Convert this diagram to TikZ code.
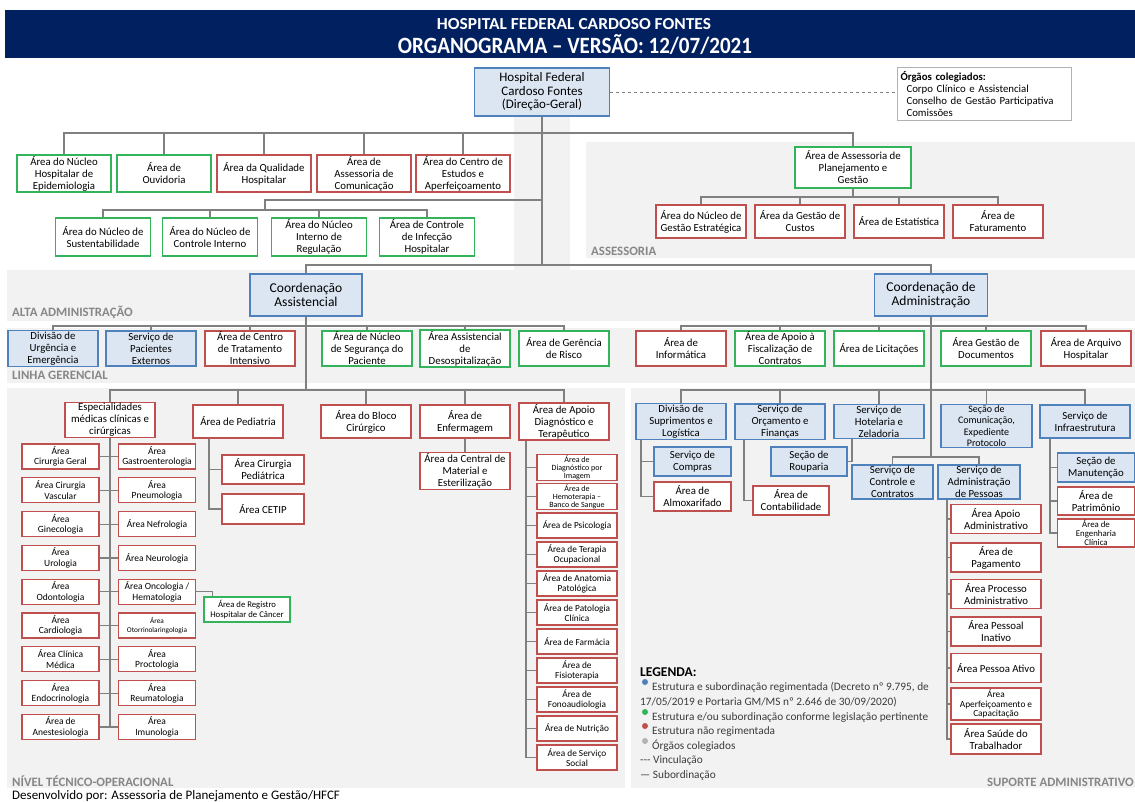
\documentclass[tikz,border=0pt]{standalone}
\usepackage{fontspec}
\setmainfont{Carlito}
\usepackage{graphicx}
\definecolor{navy}{RGB}{0,32,96}
\definecolor{boxblue}{RGB}{79,129,189}
\definecolor{fillblue}{RGB}{220,230,242}
\definecolor{boxgreen}{RGB}{51,179,90}
\definecolor{boxred}{RGB}{192,80,77}
\definecolor{panelgray}{RGB}{242,242,242}
\definecolor{linkgray}{RGB}{128,128,128}
\definecolor{zonegray}{RGB}{135,135,135}
\definecolor{legendgray}{RGB}{60,60,60}
\tikzset{
  box/.style={draw, align=center, inner sep=1pt, line width=1.3pt, font=\fontsize{10.8}{12}\selectfont},
  bluebox/.style={box, draw=boxblue, fill=fillblue},
  greenbox/.style={box, draw=boxgreen, fill=white},
  redbox/.style={box, draw=boxred, fill=white},
  wh/.style 2 args={minimum width=#1, minimum height=#2},
  small/.style={font=\fontsize{9.5}{10.5}\selectfont},
  mini/.style={font=\fontsize{9.3}{10}\selectfont},
  micro/.style={font=\fontsize{8}{8}\selectfont},
  link/.style={draw=linkgray, line width=1.2pt},
  zone/.style={anchor=base west, inner sep=0pt, text=zonegray, font=\bfseries\fontsize{12.8}{14}\selectfont},
  legend/.style={anchor=base west, inner sep=0pt, text=legendgray, font=\fontsize{11.3}{13}\selectfont}
}
\begin{document}
\begin{tikzpicture}[x=1pt,y=-1pt]
\useasboundingbox (0,0) rectangle (1135,801);
\fill[white] (0,0) rectangle (1135,801);
\fill[navy] (5,10) rectangle (1135,58);
\fill[panelgray] (514,117) rectangle (570,270);
\fill[panelgray] (586,142) rectangle (1135,258);
\fill[panelgray] (7,270) rectangle (1135,321);
\fill[panelgray] (7,328) rectangle (1135,383);
\fill[panelgray] (7,388) rectangle (625,788);
\fill[panelgray] (631,388) rectangle (1135,788);

\node[anchor=base, text=white, inner sep=0pt] (title1) at (574,29) {\resizebox{274pt}{11pt}{\bfseries HOSPITAL FEDERAL CARDOSO FONTES}};
\node[anchor=base, text=white, inner sep=0pt] (title2) at (575,53) {\resizebox{354pt}{19pt}{\bfseries ORGANOGRAMA -- VERSÃO: 12/07/2021}};

\node[bluebox, wh={135}{48}, font=\fontsize{13}{13.5}\selectfont] (dg) at (542,92) {Hospital Federal\\Cardoso Fontes\\(Direção-Geral)};
\node[draw=gray!60, line width=1pt, anchor=north west, text width=168pt, minimum height=53pt, inner sep=3pt, align=left, font=\fontsize{10.8}{12}\selectfont] (coleg) at (897,67)
  {\textbf{Órgãos colegiados:}\\\hspace*{6pt}Corpo Clínico e Assistencial\\\hspace*{6pt}Conselho de Gestão Participativa\\\hspace*{6pt}Comissões};

\node[greenbox, wh={94}{37}] (epid) at (64,173.5) {Área do Núcleo\\Hospitalar de\\Epidemiologia};
\node[greenbox, wh={94}{37}] (ouvid) at (164,173.5) {Área de\\Ouvidoria};
\node[redbox, wh={94}{37}] (qual) at (264,173.5) {Área da Qualidade\\Hospitalar};
\node[redbox, wh={94}{37}] (comun) at (364,173.5) {Área de\\Assessoria de\\Comunicação};
\node[redbox, wh={94}{37}] (estudos) at (463,173.5) {Área do Centro de\\Estudos e\\Aperfeiçoamento};

\node[greenbox, wh={95}{38}] (sust) at (103,237) {Área do Núcleo de\\Sustentabilidade};
\node[greenbox, wh={95}{38}] (ctrl) at (210,237) {Área do Núcleo de\\Controle Interno};
\node[greenbox, wh={95}{38}] (regul) at (319,237) {Área do Núcleo\\Interno de\\Regulação};
\node[greenbox, wh={95}{38}] (infec) at (427,237) {Área de Controle\\de Infecção\\Hospitalar};

\node[greenbox, wh={116}{41}] (plan) at (853,167.5) {Área de Assessoria de\\Planejamento e\\Gestão};
\node[redbox, wh={90}{33}] (nge) at (701,221.5) {Área do Núcleo de\\Gestão Estratégica};
\node[redbox, wh={90}{33}] (custos) at (800,221.5) {Área da Gestão de\\Custos};
\node[redbox, wh={90}{33}] (estat) at (899,221.5) {Área de Estatística};
\node[redbox, wh={90}{33}] (fatur) at (998,221.5) {Área de\\Faturamento};

\node[bluebox, wh={112}{42}, font=\fontsize{13.5}{14.5}\selectfont] (ca) at (306,295) {Coordenação\\Assistencial};
\node[bluebox, wh={113}{42}, font=\fontsize{13.5}{14.5}\selectfont] (cadm) at (931,295) {Coordenação de\\Administração};

\node[bluebox, wh={90}{35}] (urg) at (53,348.5) {Divisão de\\Urgência e\\Emergência};
\node[bluebox, wh={90}{35}] (pext) at (151,348.5) {Serviço de\\Pacientes\\Externos};
\node[redbox, wh={90}{35}] (cti) at (250,348.5) {Área de Centro\\de Tratamento\\Intensivo};
\node[greenbox, wh={90}{35}] (nsp) at (367,348.5) {Área de Núcleo\\de Segurança do\\Paciente};
\node[greenbox, wh={90}{35}] (desosp) at (465,348.5) {Área Assistencial\\de\\Desospitalização};
\node[greenbox, wh={90}{35}] (risco) at (564,348.5) {Área de Gerência\\de Risco};
\node[redbox, wh={90}{35}] (inform) at (681,348.5) {Área de\\Informática};
\node[greenbox, wh={90}{35}] (fisc) at (780,348.5) {Área de Apoio à\\Fiscalização de\\Contratos};
\node[greenbox, wh={90}{35}] (licit) at (879,348.5) {Área de Licitações};
\node[greenbox, wh={90}{35}] (gdoc) at (986,348.5) {Área Gestão de\\Documentos};
\node[redbox, wh={90}{35}] (arq) at (1086,348.5) {Área de Arquivo\\Hospitalar};

\node[redbox, wh={90}{34}] (espec) at (110,420) {Especialidades\\médicas clínicas e\\cirúrgicas};
\node[redbox, wh={90}{33}] (pedia) at (238,421.5) {Área de Pediatria};
\node[redbox, wh={90}{33}] (bloco) at (366,421.5) {Área do Bloco\\Cirúrgico};
\node[redbox, wh={90}{33}] (enferm) at (465,421.5) {Área de\\Enfermagem};
\node[redbox, wh={90}{33}] (apoio) at (564,421.5) {Área de Apoio\\Diagnóstico e\\Terapêutico};
\node[redbox, wh={90}{34}] (cme) at (465,471) {Área da Central de\\Material e\\Esterilização};

\foreach \i/\txt in {1/{Área\\Cirurgia Geral}, 2/{Área Cirurgia\\Vascular}, 3/{Área\\Ginecologia}, 4/{Área\\Urologia}, 5/{Área\\Odontologia}, 6/{Área\\Cardiologia}, 7/{Área Clínica\\Médica}, 8/{Área\\Endocrinologia}, 9/{Área de\\Anestesiologia}}
  \node[redbox, small, wh={77}{25}] (el\i) at (60.5,{456.5+33.8*(\i-1)}) {\txt};
\foreach \i/\txt in {1/{Área\\Gastroenterologia}, 2/{Área\\Pneumologia}, 3/{Área Nefrologia}, 4/{Área Neurologia}, 5/{Área Oncologia /\\Hematologia}, 7/{Área\\Proctologia}, 8/{Área\\Reumatologia}, 9/{Área\\Imunologia}}
  \node[redbox, small, wh={77}{25}] (er\i) at (157,{456.5+33.8*(\i-1)}) {\txt};
\node[redbox, wh={77}{25}, font=\fontsize{7.3}{8.5}\selectfont] (er6) at (157,625.5) {Área\\Otorrinolaringologia};
\node[greenbox, wh={86}{25}, font=\fontsize{8.7}{10}\selectfont] (regist) at (247,609.5) {Área de Registro\\Hospitalar de Câncer};

\node[redbox, wh={82}{29}] (ped1) at (263,469.5) {Área Cirurgia\\Pediátrica};
\node[redbox, wh={82}{30}] (ped2) at (263,509) {Área CETIP};

\foreach \i/\txt in {1/{Área de\\Diagnóstico por\\Imagem}, 2/{Área de\\Hemoterapia --\\Banco de Sangue}}
  \node[redbox, micro, wh={80}{25}] (ad\i) at (577,{467.5+29*(\i-1)}) {\txt};
\foreach \i/\txt in {3/{Área de Psicologia}, 4/{Área de Terapia\\Ocupacional}, 5/{Área de Anatomia\\Patológica}, 6/{Área de Patologia\\Clínica}, 7/{Área de Farmácia}, 8/{Área de\\Fisioterapia}, 9/{Área de\\Fonoaudiologia}, 10/{Área de Nutrição}, 11/{Área de Serviço\\Social}}
  \node[redbox, mini, wh={80}{25}] (ad\i) at (577,{467.5+29*(\i-1)}) {\txt};

\node[bluebox, wh={90}{33}] (supr) at (681,421.5) {Divisão de\\Suprimentos e\\Logística};
\node[bluebox, wh={90}{33}] (orc) at (780,421.5) {Serviço de\\Orçamento e\\Finanças};
\node[bluebox, wh={90}{33}] (hotel) at (879,421.5) {Serviço de\\Hotelaria e\\Zeladoria};
\node[bluebox, wh={91}{42}, font=\fontsize{10}{11.3}\selectfont] (comunic) at (986.5,426) {Seção de\\Comunicação,\\Expediente\\Protocolo};
\node[bluebox, wh={90}{33}] (infra) at (1085,421.5) {Serviço de\\Infraestrutura};

\node[bluebox, wh={77}{29}] (compras) at (692.5,461.5) {Serviço de\\Compras};
\node[redbox, wh={77}{29}] (almox) at (692.5,496.5) {Área de\\Almoxarifado};
\node[redbox, wh={76}{29}] (contab) at (791,500.5) {Área de\\Contabilidade};
\node[bluebox, wh={76}{29}] (roupa) at (809,461.5) {Seção de\\Rouparia};
\node[bluebox, wh={81}{34}] (controle) at (892.5,482) {Serviço de\\Controle e\\Contratos};
\node[bluebox, wh={82}{34}] (admp) at (979,482) {Serviço de\\Administração\\de Pessoas};
\node[bluebox, wh={77}{29}] (manut) at (1096,467.5) {Seção de\\Manutenção};
\node[redbox, wh={77}{28}] (patrim) at (1096,501) {Área de\\Patrimônio};
\node[redbox, wh={77}{28}, font=\fontsize{8.8}{8.8}\selectfont] (engcl) at (1096,533) {Área de\\Engenharia\\Clínica};

\node[redbox, wh={90}{29}] (pess1) at (996,519) {Área Apoio\\Administrativo};
\node[redbox, wh={90}{29}] (pess2) at (996,557.5) {Área de\\Pagamento};
\node[redbox, wh={90}{29}] (pess3) at (996,594) {Área Processo\\Administrativo};
\node[redbox, wh={90}{29}] (pess4) at (996,631.5) {Área Pessoal\\Inativo};
\node[redbox, wh={90}{29}] (pess5) at (996,668) {Área Pessoa Ativo};
\node[redbox, wh={90}{32}, font=\fontsize{9.3}{9.5}\selectfont] (pess6) at (996,704) {Área\\Aperfeiçoamento e\\Capacitação};
\node[redbox, wh={90}{30}] (pess7) at (996,739) {Área Saúde do\\Trabalhador};

\coordinate (topbus) at (0,133);
\coordinate (r2link) at (265,200);
\coordinate (r2bus) at (0,210);
\coordinate (asbus) at (0,197);
\coordinate (coordbus) at (0,265);
\coordinate (lgbus) at (0,326);
\coordinate (ntbus) at (0,390);
\coordinate (pbus) at (0,457);

\draw[dashed, draw=linkgray, line width=1pt] (dg.east) -- (dg.east -| coleg.west);
\draw[link] (dg.south) -- (dg.south |- coordbus);
\draw[link] (epid.north) |- (plan.north |- topbus) -- (plan.north);
\foreach \n in {ouvid,qual,comun,estudos}
  \draw[link] (\n.north) -- (\n.north |- topbus);
\draw[link] (dg.south |- r2link) -- (r2link) -- (r2link |- r2bus);
\draw[link] (sust.north) |- (infec.north |- r2bus) -- (infec.north);
\foreach \n in {ctrl,regul}
  \draw[link] (\n.north) -- (\n.north |- r2bus);
\draw[link] (plan.south) -- (plan.south |- asbus);
\draw[link] (nge.north) |- (fatur.north |- asbus) -- (fatur.north);
\foreach \n in {custos,estat}
  \draw[link] (\n.north) -- (\n.north |- asbus);
\draw[link] (ca.north) |- (cadm.north |- coordbus) -- (cadm.north);

\draw[link] (urg.north) |- (risco.north |- lgbus) -- (risco.north);
\foreach \n in {pext,cti,nsp,desosp}
  \draw[link] (\n.north) -- (\n.north |- lgbus);
\draw[link] (inform.north) |- (arq.north |- lgbus) -- (arq.north);
\foreach \n in {fisc,licit,gdoc}
  \draw[link] (\n.north) -- (\n.north |- lgbus);

\draw[link] (ca.south) -- (ca.south |- ntbus);
\draw[link] (espec.north) |- (apoio.north |- ntbus) -- (apoio.north);
\foreach \n in {pedia,bloco,enferm}
  \draw[link] (\n.north) -- (\n.north |- ntbus);
\draw[link] (enferm) -- (cme);
\draw[link] (espec) -- (espec |- el9);
\foreach \i in {1,...,9}
  \draw[link] (el\i.east) -- (er\i.west);
\draw[link] (er5.east) -| ([xshift=9pt]regist.north west);
\draw[link] ([xshift=-29pt]pedia.south) |- (ped2.west);
\draw[link] ([xshift=-29pt]pedia.south |- ped1.west) -- (ped1.west);
\coordinate (adtop) at ([xshift=-38pt]apoio.south);
\draw[link] (adtop) |- (ad11.west);
\foreach \i in {1,...,10}
  \draw[link] (adtop |- ad\i.west) -- (ad\i.west);

\draw[link] (cadm.south) -- (cadm.south |- pbus);
\draw[link] (supr.north) |- (infra.north |- ntbus) -- (infra.north);
\foreach \n in {orc,hotel,comunic}
  \draw[link] (\n.north) -- (\n.north |- ntbus);
\draw[link] (controle.north) |- (admp.north |- pbus) -- (admp.north);
\coordinate (suprtop) at ([xshift=-40pt]supr.south);
\draw[link] (suprtop) |- (almox.west);
\draw[link] (suprtop |- compras.west) -- (compras.west);
\draw[link] ([xshift=-36pt]orc.south) |- (contab.west);
\draw[link] (roupa.east) -| ([xshift=-27pt]hotel.south);
\coordinate (infratop) at ([xshift=-35pt]infra.south);
\draw[link] (infratop) |- (engcl.west);
\draw[link] (infratop |- manut.west) -- (manut.west);
\draw[link] (infratop |- patrim.west) -- (patrim.west);
\coordinate (pesstop) at ([xshift=-32pt]admp.south);
\draw[link] (pesstop) |- (pess7.west);
\foreach \i in {1,...,6}
  \draw[link] (pesstop |- pess\i.west) -- (pess\i.west);

\node[zone] (zassess) at (591,255) {ASSESSORIA};
\node[zone] (zalta) at (12,316) {ALTA ADMINISTRAÇÃO};
\node[zone] (zlinha) at (12,379) {LINHA GERENCIAL};
\node[zone] (znivel) at (12,786) {NÍVEL TÉCNICO-OPERACIONAL};
\node[zone, anchor=base east] (zsup) at (1134,786) {SUPORTE ADMINISTRATIVO};

\node[legend, text=black, font=\bfseries\fontsize{13.5}{14}\selectfont] (legtitle) at (640,676) {LEGENDA:};
\node[legend] (leg1) at (652,690) {Estrutura e subordinação regimentada (Decreto nº 9.795, de};
\node[legend] (leg2) at (640,705) {17/05/2019 e Portaria GM/MS nº 2.646 de 30/09/2020)};
\node[legend] (leg3) at (652,720) {Estrutura e/ou subordinação conforme legislação pertinente};
\node[legend] (leg4) at (652,734) {Estrutura não regimentada};
\node[legend] (leg5) at (652,749) {Órgãos colegiados};
\node[legend] (leg6) at (640,763) {-{}-{}- Vinculação};
\node[legend] (leg7) at (640,778) {— Subordinação};
\fill[boxblue] ([xshift=-7pt,yshift=8pt]leg1.base west) circle (3pt);
\fill[boxgreen] ([xshift=-7pt,yshift=8pt]leg3.base west) circle (3pt);
\fill[boxred] ([xshift=-7pt,yshift=8pt]leg4.base west) circle (3pt);
\fill[gray!60] ([xshift=-7pt,yshift=8pt]leg5.base west) circle (3pt);

\node[anchor=base west, inner sep=0pt, font=\fontsize{13}{14}\selectfont] (footer) at (12,799) {Desenvolvido por: Assessoria de Planejamento e Gestão/HFCF};
\end{tikzpicture}
\end{document}
